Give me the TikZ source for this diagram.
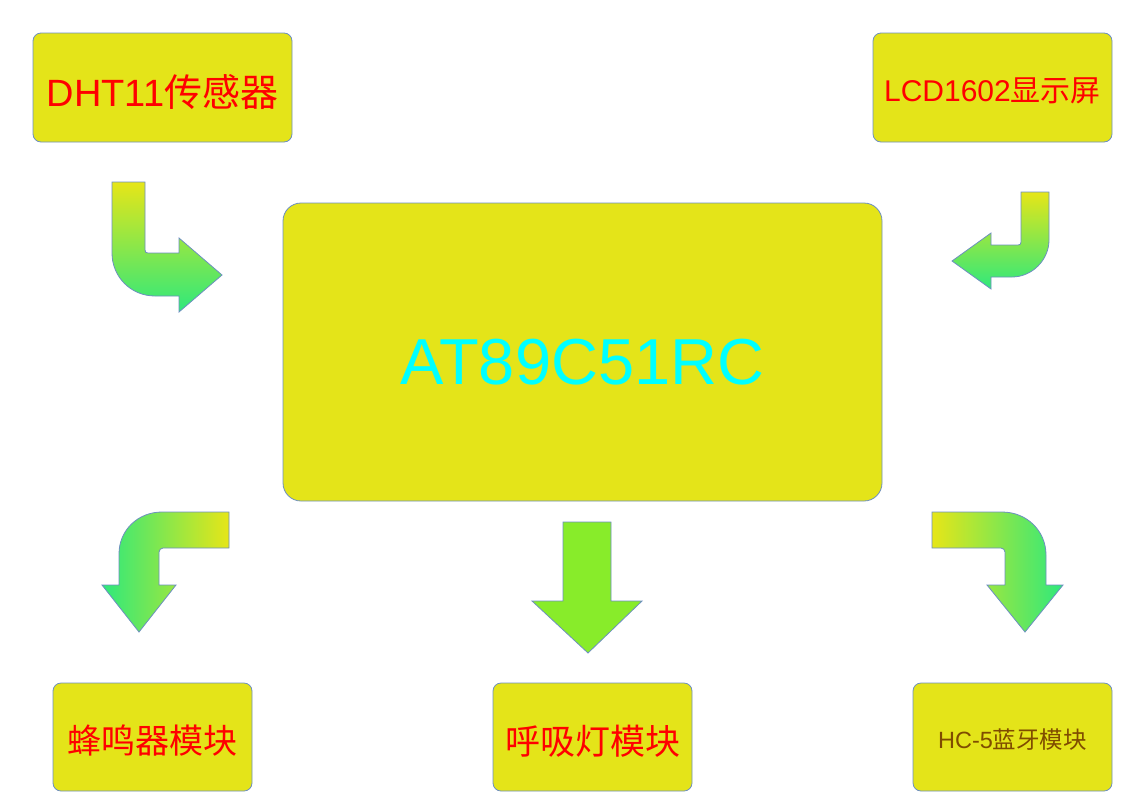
\documentclass[tikz,border=0pt]{standalone}
\usepackage{fontspec}
\setmainfont{Liberation Sans}
\newfontfamily\cjk{Noto Sans CJK SC}
\definecolor{boxfill}{HTML}{E4E419}
\definecolor{edge}{HTML}{6D8FC0}
\definecolor{ayellow}{HTML}{E6E618}
\definecolor{agreen}{HTML}{2EE87C}
\definecolor{amid}{HTML}{88EC2A}
\definecolor{txtbrown}{HTML}{7F4C00}
\definecolor{txtcyan}{HTML}{00FFFF}
\definecolor{txtred}{HTML}{FF0000}
\begin{document}
\begin{tikzpicture}[x=1pt,y=-1pt,
  box/.style={draw=edge, line width=0.8pt, fill=boxfill, rounded corners=8pt, inner sep=0pt},
  barrow/.style={draw=edge, line width=0.8pt, line join=miter}]
\useasboundingbox (0,0) rectangle (1129,809);
% boxes
\node[box, minimum width=259pt, minimum height=109pt] (dht) at (162.5,87.5) {};
\node[text=txtred, font=\fontsize{38}{40}\selectfont, inner sep=0pt] (dhtt) at ([yshift=-5pt]dht.center) {DHT11{\cjk 传感器}};
\node[box, minimum width=239pt, minimum height=109pt] (lcd) at (992.5,87.5) {};
\node[text=txtred, font=\fontsize{30}{34}\selectfont, inner sep=0pt] (lcdt) at ([yshift=-3pt]lcd.center) {LCD1602{\cjk 显示屏}};
\node[box, rounded corners=18pt, minimum width=599pt, minimum height=298pt] (mcu) at (582.5,352) {};
\node[text=txtcyan, font=\fontsize{65}{70}\selectfont, inner sep=0pt] (mcut) at ([yshift=-10pt]mcu.center) {AT89C51RC};
\node[box, minimum width=199pt, minimum height=108pt] (buz) at (152.5,737) {};
\node[text=txtred, font=\fontsize{34}{38}\cjk, inner sep=0pt] (buzt) at ([yshift=-4pt]buz.center) {蜂鸣器模块};
\node[box, minimum width=199pt, minimum height=108pt] (led) at (592.5,737) {};
\node[text=txtred, font=\fontsize{35}{38}\cjk, inner sep=0pt] (ledt) at ([yshift=-4pt]led.center) {呼吸灯模块};
\node[box, minimum width=199pt, minimum height=108pt] (bt) at (1012.5,737) {};
\node[text=txtbrown, font=\fontsize{23.5}{26}\selectfont, inner sep=0pt] (btt) at ([yshift=-3pt]bt.center) {HC-5{\cjk 蓝牙模块}};
% arrow 1: DHT11 -> MCU
\shade[barrow, top color=ayellow, bottom color=agreen]
  (112,182) -- (145,182) -- (145,250) .. controls (145,252) and (146,253) .. (148,253)
  -- (179,253) -- (179,238) -- (222,275) -- (179,312) -- (179,296) -- (155,296)
  .. controls (131,296) and (112,277) .. (112,253) -- cycle;
% arrow 2: LCD -> MCU
\shade[barrow, top color=ayellow, bottom color=agreen]
  (1049,192) -- (1021,192) -- (1021,242) .. controls (1021,244) and (1020,245) .. (1018,245)
  -- (991,245) -- (991,233) -- (952,261) -- (991,289) -- (991,277) -- (1012,277)
  .. controls (1032,277) and (1049,260) .. (1049,240) -- cycle;
% arrow 3: MCU -> buzzer
\shade[barrow, left color=agreen, right color=ayellow]
  (229,512) -- (229,548) -- (163,548) .. controls (161,548) and (159,550) .. (159,552)
  -- (159,585) -- (176,585) -- (139,632) -- (102,585) -- (119,585) -- (119,554)
  .. controls (119,530) and (138,512) .. (162,512) -- cycle;
% arrow 4: MCU -> LED
\fill[barrow, fill=amid]
  (563,522) -- (611,522) -- (611,601) -- (642,601) -- (588,653) -- (532,601) -- (563,601) -- cycle;
% arrow 5: MCU -> bluetooth
\shade[barrow, left color=ayellow, right color=agreen]
  (932,512) -- (932,548) -- (1001,548) .. controls (1003,548) and (1005,550) .. (1005,552)
  -- (1005,585) -- (987,585) -- (1025,632) -- (1063,585) -- (1046,585) -- (1046,555)
  .. controls (1046,531) and (1027,512) .. (1002,512) -- cycle;
\end{tikzpicture}
\end{document}
